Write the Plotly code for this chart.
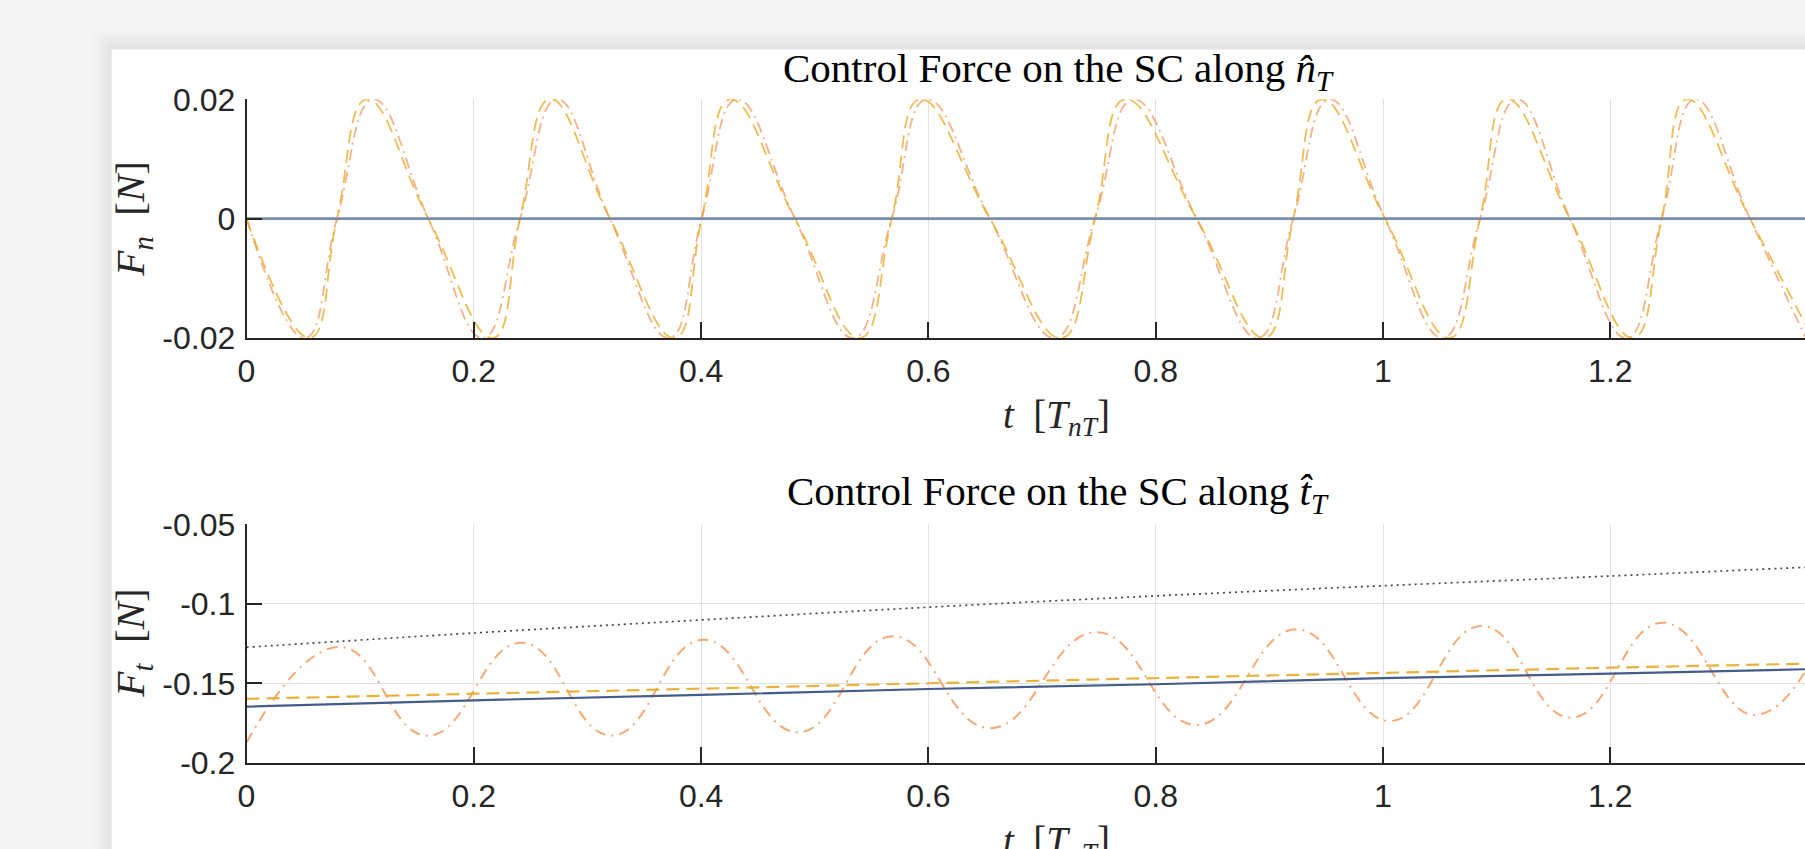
import plotly.graph_objects as go

W, H = 1805, 849

# ---------------- data ----------------
t_end = 1.3713
x_tick_vals = [0, 0.2, 0.4, 0.6, 0.8, 1.0, 1.2, 1.4]
x_tick_text = ["0", "0.2", "0.4", "0.6", "0.8", "1", "1.2", "1.4"]

y1_tick_vals = [-0.02, 0.0, 0.02]
y1_tick_text = ["-0.02", "0", "0.02"]
y2_tick_vals = [-0.2, -0.15, -0.1, -0.05]
y2_tick_text = ["-0.2", "-0.15", "-0.1", "-0.05"]

# top panel: F_n
t_flat = [0.0, 1.3713]
Fn_blue = [0.0, 0.0]

t_Fn_yel = [0.0, 0.0559, 0.0796, 0.1057, 0.160, 0.217, 0.2407, 0.267, 0.3198, 0.377,
            0.4005, 0.4255, 0.4826, 0.540, 0.5677, 0.5926, 0.6542, 0.7173, 0.7466, 0.773,
            0.836, 0.896, 0.921, 0.946, 1.0018, 1.0589, 1.0854, 1.1088, 1.1645, 1.2203,
            1.2452, 1.2672, 1.3229, 1.378]
Fn_yel = [0.0, -0.02, 0.0, 0.02, 0.0, -0.02, 0.0, 0.02, 0.0, -0.02,
          0.0, 0.02, 0.0, -0.02, 0.0, 0.02, 0.0, -0.02, 0.0, 0.02,
          0.0, -0.02, 0.0, 0.02, 0.0, -0.02, 0.0, 0.02, 0.0, -0.02,
          0.0, 0.02, 0.0, -0.02]

t_Fn_org = [0.0, 0.0515, 0.0796, 0.1116, 0.160, 0.208, 0.2407, 0.273, 0.3198, 0.372,
            0.4005, 0.4315, 0.4826, 0.534, 0.5677, 0.5985, 0.6542, 0.7114, 0.7466, 0.7803,
            0.836, 0.890, 0.921, 0.953, 1.0018, 1.0528, 1.0854, 1.1176, 1.1645, 1.2144,
            1.2452, 1.2745, 1.3229, 1.372]
Fn_org = [0.0, -0.02, 0.0, 0.02, 0.0, -0.02, 0.0, 0.02, 0.0, -0.02,
          0.0, 0.02, 0.0, -0.02, 0.0, 0.02, 0.0, -0.02, 0.0, 0.02,
          0.0, -0.02, 0.0, 0.02, 0.0, -0.02, 0.0, 0.02, 0.0, -0.02,
          0.0, 0.02, 0.0, -0.02]

# bottom panel: F_t
t_lin = [0.0, 0.2, 0.4, 0.6, 0.8, 1.0, 1.2, 1.3713]
Ft_dot = [-0.1273, -0.1183, -0.1101, -0.1021, -0.0950, -0.0886, -0.0825, -0.0770]
Ft_blue = [-0.1646, -0.1606, -0.1572, -0.1535, -0.1505, -0.1467, -0.1438, -0.1411]
Ft_yel = [-0.1597, -0.1566, -0.1533, -0.1499, -0.1466, -0.1430, -0.1401, -0.1376]

t_Ft_org = [0.0, 0.0823, 0.1594, 0.2421, 0.3213, 0.4019, 0.4855, 0.5686, 0.6542,
            0.7481, 0.836, 0.924, 1.0062, 1.0868, 1.1654, 1.2461, 1.3258, 1.3713]
Ft_org = [-0.1872, -0.1271, -0.1829, -0.1244, -0.1828, -0.1225, -0.1807, -0.1204, -0.1781,
          -0.1178, -0.1761, -0.1160, -0.1736, -0.1139, -0.1715, -0.1118, -0.1698, -0.1426]

# ---------------- layout geometry (pixels) ----------------
ax_left = 246.5
top_y0, top_y1 = 99.3, 338.0
bot_y0, bot_y1 = 524.3, 763.0
panel_x, panel_y = 111.6, 49.5

def px(x):
    return x / W

def py(y):
    return 1 - y / H

AX = "rgb(38,38,38)"
GRID = "rgb(225,225,225)"
TICKFONT = dict(family="Liberation Sans, Arial, sans-serif", size=32, color=AX)
SERIF = "Liberation Serif, Times New Roman, serif"

fig = go.Figure()

# top traces
fig.add_trace(go.Scatter(x=t_Fn_org, y=Fn_org, mode="lines",
                         line=dict(shape="spline", smoothing=1.3,
                                   color="rgba(240,135,70,0.65)", width=1.8,
                                   dash="11px,5px,2px,5px"),
                         xaxis="x", yaxis="y", hoverinfo="skip"))
fig.add_trace(go.Scatter(x=t_Fn_yel, y=Fn_yel, mode="lines",
                         line=dict(shape="spline", smoothing=1.3,
                                   color="rgba(233,172,40,0.8)", width=1.8, dash="13px,7px"),
                         xaxis="x", yaxis="y", hoverinfo="skip"))
fig.add_trace(go.Scatter(x=t_flat, y=Fn_blue, mode="lines",
                         line=dict(color="rgb(122,140,168)", width=2.6),
                         xaxis="x", yaxis="y", hoverinfo="skip"))

# bottom traces
fig.add_trace(go.Scatter(x=t_lin, y=Ft_dot, mode="lines",
                         line=dict(shape="spline", color="rgb(70,70,80)", width=1.7,
                                   dash="2px,4px"),
                         xaxis="x2", yaxis="y2", hoverinfo="skip"))
fig.add_trace(go.Scatter(x=t_Ft_org, y=Ft_org, mode="lines",
                         line=dict(shape="spline", smoothing=1.3,
                                   color="rgba(243,140,70,0.75)", width=2.0,
                                   dash="11px,6px,2px,6px"),
                         xaxis="x2", yaxis="y2", hoverinfo="skip"))
fig.add_trace(go.Scatter(x=t_lin, y=Ft_yel, mode="lines",
                         line=dict(color="rgba(232,170,40,0.9)", width=2.2, dash="13px,7px"),
                         xaxis="x2", yaxis="y2", hoverinfo="skip"))
fig.add_trace(go.Scatter(x=t_lin, y=Ft_blue, mode="lines",
                         line=dict(color="rgb(68,92,138)", width=2.2),
                         xaxis="x2", yaxis="y2", hoverinfo="skip"))

xdom = [px(ax_left), 1.0]
common_x = dict(range=[0, t_end], domain=xdom, tickmode="array", tickvals=x_tick_vals,
                ticktext=x_tick_text, showgrid=True, gridcolor=GRID, gridwidth=1,
                showline=True, linecolor=AX, linewidth=1.6, ticks="inside", ticklen=16,
                tickwidth=1.6, tickcolor=AX, tickfont=TICKFONT, zeroline=False,
                ticklabelstandoff=4, fixedrange=True, automargin=False)
common_y = dict(tickmode="array", showgrid=True, gridcolor=GRID, gridwidth=1,
                showline=True, linecolor=AX, linewidth=1.6, ticks="inside", ticklen=16,
                tickwidth=1.6, tickcolor=AX, tickfont=TICKFONT, zeroline=False,
                ticklabelstandoff=3, fixedrange=True, automargin=False)

fig.update_layout(
    width=W, height=H, autosize=False,
    margin=dict(l=0, r=0, t=0, b=0, pad=0, autoexpand=False),
    paper_bgcolor="#f5f5f5", plot_bgcolor="white", showlegend=False,
    xaxis=dict(anchor="y", **common_x),
    xaxis2=dict(anchor="y2", **common_x),
    yaxis=dict(anchor="x", domain=[py(top_y1), py(top_y0)], range=[-0.02, 0.02],
               tickvals=y1_tick_vals, ticktext=y1_tick_text, **common_y),
    yaxis2=dict(anchor="x2", domain=[py(bot_y1), py(bot_y0)], range=[-0.2, -0.05],
                tickvals=y2_tick_vals, ticktext=y2_tick_text, **common_y),
)

# window panel with soft shadow
shapes = []
for k in range(18, 0, -2):
    shapes.append(dict(type="rect", xref="paper", yref="paper", layer="below",
                       x0=px(panel_x - k), x1=1.02, y0=-0.02, y1=py(panel_y - k),
                       line=dict(width=0), fillcolor="rgba(0,0,0,0.006)"))
shapes.append(dict(type="rect", xref="paper", yref="paper", layer="below",
                   x0=px(panel_x), x1=1.02, y0=-0.02, y1=py(panel_y),
                   line=dict(width=0), fillcolor="white"))
fig.update_layout(shapes=shapes)

ann = []
title_x = px(1058)
ann.append(dict(text="Control Force on the SC along <i>n\u0302</i><sub><i>T</i></sub>",
                x=title_x, y=py(71), xref="paper", yref="paper", showarrow=False,
                xanchor="center", yanchor="middle",
                font=dict(family=SERIF, size=41, color="black")))
ann.append(dict(text="Control Force on the SC along <i>t\u0302</i><sub><i>T</i></sub>",
                x=title_x, y=py(494), xref="paper", yref="paper", showarrow=False,
                xanchor="center", yanchor="middle",
                font=dict(family=SERIF, size=41, color="black")))
for yc in (418, 843):
    ann.append(dict(text="<i>t</i>&nbsp; [<i>T</i><sub><i>nT</i></sub>]",
                    x=px(1056), y=py(yc), xref="paper", yref="paper", showarrow=False,
                    xanchor="center", yanchor="middle",
                    font=dict(family=SERIF, size=39, color=AX)))
ann.append(dict(text="<i>F</i><sub><i>n</i></sub>&nbsp; [<i>N</i>]", textangle=-90,
                x=px(133), y=py((top_y0 + top_y1) / 2), xref="paper", yref="paper",
                showarrow=False, xanchor="center", yanchor="middle",
                font=dict(family=SERIF, size=41, color=AX)))
ann.append(dict(text="<i>F</i><sub><i>t</i></sub>&nbsp; [<i>N</i>]", textangle=-90,
                x=px(133), y=py((bot_y0 + bot_y1) / 2), xref="paper", yref="paper",
                showarrow=False, xanchor="center", yanchor="middle",
                font=dict(family=SERIF, size=41, color=AX)))
fig.update_layout(annotations=ann)

post = ("document.documentElement.style.margin='0';document.body.style.margin='0';"
        "document.body.style.padding='0';document.body.style.overflow='hidden';"
        "document.documentElement.style.overflow='hidden';")
fig.write_html("out.html", config={"displayModeBar": False}, post_script=post)
